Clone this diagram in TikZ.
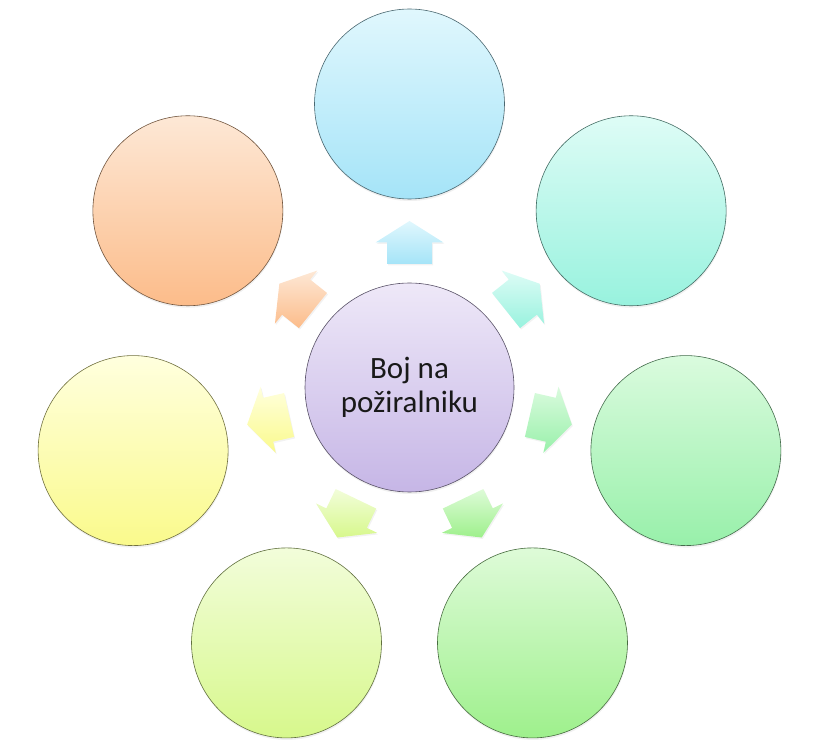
\documentclass[tikz,border=0pt]{standalone}
\usepackage{fontspec}
\setmainfont{Carlito}
\usetikzlibrary{calc,shadows}
\definecolor{pT}{RGB}{238,232,248}
\definecolor{pB}{RGB}{198,182,230}
\definecolor{bT}{RGB}{224,247,253}
\definecolor{bB}{RGB}{165,228,248}
\definecolor{mT}{RGB}{222,252,246}
\definecolor{mB}{RGB}{152,242,222}
\definecolor{gT}{RGB}{218,251,222}
\definecolor{gB}{RGB}{152,240,170}
\definecolor{hT}{RGB}{222,251,216}
\definecolor{hB}{RGB}{158,240,140}
\definecolor{yT}{RGB}{242,253,218}
\definecolor{yB}{RGB}{215,248,140}
\definecolor{lT}{RGB}{255,255,222}
\definecolor{lB}{RGB}{250,250,140}
\definecolor{oT}{RGB}{253,232,214}
\definecolor{oB}{RGB}{252,188,138}
\begin{document}
\begin{tikzpicture}[x=1pt,y=1pt,
  bubble/.style={circle, minimum size=190pt, inner sep=0pt, line width=0.6pt,
    drop shadow={opacity=0.12, shadow xshift=0.5pt, shadow yshift=-2pt}},
  blockarrow/.style={drop shadow={opacity=0.1, shadow xshift=1pt, shadow yshift=-1.5pt}}]
\useasboundingbox (0,0) rectangle (835,753);
\coordinate (O) at (409.5,365.5);
\foreach \k/\t/\b in {0/bT/bB,1/mT/mB,2/gT/gB,3/hT/hB,4/yT/yB,5/lT/lB,6/oT/oB}{
  \pgfmathsetmacro\a{90-\k*360/7}
  \node[bubble, top color=\t, bottom color=\b, draw=\b!45!black] (c\k) at ($(O)+(\a:283.5pt)$) {};
  \begin{scope}[shift={(O)}, rotate=\a]
    \path[blockarrow, top color=\t, bottom color=\b]
      (123.5,-22.5) -- (145,-22.5) -- (145,-34) -- (166.5,0) -- (145,34)
      -- (145,22.5) -- (123.5,22.5) -- cycle;
  \end{scope}
}
\node[bubble, minimum size=209pt, top color=pT, bottom color=pB, draw=pB!45!black,
  align=center, text=black!90, font=\fontsize{31}{34}\selectfont] (ctr) at (O)
  {Boj na\\požiralniku};
\end{tikzpicture}
\end{document}
